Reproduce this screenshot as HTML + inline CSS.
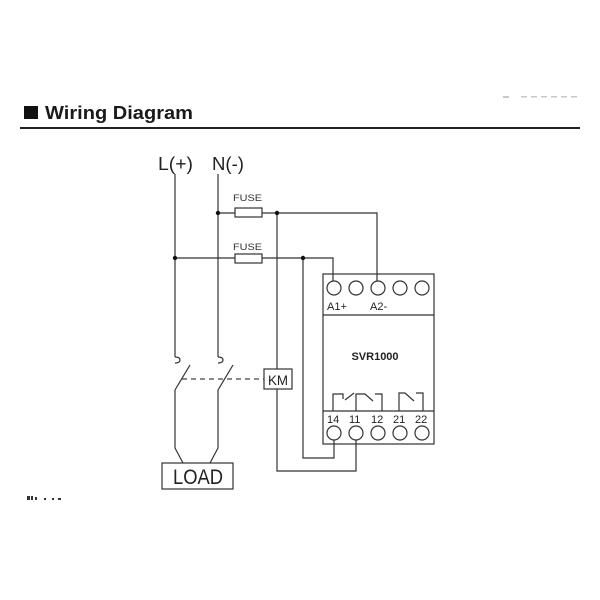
<!DOCTYPE html>
<html>
<head>
<meta charset="utf-8">
<style>
html,body{margin:0;padding:0;background:#fff;}
svg{display:block;}
</style>
</head>
<body>
<svg width="600" height="600" viewBox="0 0 600 600" xmlns="http://www.w3.org/2000/svg">
  <rect x="0" y="0" width="600" height="600" fill="#fff"/>
  <!-- faint top-right remnants -->
  <g fill="#c8c8c8">
    <rect x="503" y="96" width="6" height="2"/>
    <rect x="521" y="96" width="6" height="1.5"/>
    <rect x="531" y="96" width="6" height="1.5"/>
    <rect x="541" y="96" width="6" height="1.5"/>
    <rect x="551" y="96" width="6" height="1.5"/>
    <rect x="561" y="96" width="6" height="1.5"/>
    <rect x="571" y="96" width="6" height="1.5"/>
  </g>
  <!-- header -->
  <rect x="24" y="106" width="14" height="13" fill="#111"/>
  <text x="45" y="119" font-family="Liberation Sans, sans-serif" font-weight="bold" font-size="18" fill="#1a1a1a" textLength="148" lengthAdjust="spacingAndGlyphs">Wiring Diagram</text>
  <rect x="20" y="127" width="560" height="2" fill="#222"/>

  <!-- L / N labels -->
  <text x="158" y="170" font-family="Liberation Sans, sans-serif" font-size="18" fill="#222" textLength="35" lengthAdjust="spacingAndGlyphs">L(+)</text>
  <text x="212" y="170" font-family="Liberation Sans, sans-serif" font-size="18" fill="#222" textLength="32" lengthAdjust="spacingAndGlyphs">N(-)</text>

  <g stroke="#333" stroke-width="1.2" fill="none">
    <!-- L and N vertical lines -->
    <line x1="175" y1="174" x2="175" y2="357"/>
    <path d="M175 357 Q180 357 180 360 Q180 363 175 363"/>
    <line x1="218" y1="174" x2="218" y2="357"/>
    <path d="M218 357 Q223 357 223 360 Q223 363 218 363"/>
    <!-- switch blades -->
    <line x1="175" y1="390" x2="190" y2="365"/>
    <line x1="218" y1="390" x2="233" y2="365"/>
    <!-- down to load -->
    <path d="M175 390 V448 L183 463"/>
    <path d="M218 390 V448 L210 463"/>
    <!-- upper line (N) -->
    <path d="M218 213 H377 V281"/>
    <!-- lower line (L) -->
    <path d="M175 258 H333 V281"/>
    <!-- KM coil wire -->
    <path d="M277 213 V471 H356 V440"/>
    <!-- 14 wire -->
    <path d="M303 258 V458 H334 V440"/>
    <!-- device box -->
    <rect x="323" y="274" width="111" height="170"/>
    <line x1="323" y1="315" x2="434" y2="315"/>
    <line x1="323" y1="411" x2="434" y2="411"/>
    <!-- contacts -->
    <path d="M333 411 V394 H343 V399"/>
    <line x1="345" y1="400" x2="354" y2="393"/>
    <path d="M356 411 V394 H365 L373 401"/>
    <path d="M375 394 H382 V411"/>
    <path d="M399 411 V393 H405 L414 401"/>
    <path d="M416 393 H423 V411"/>
  </g>
  <!-- dashed mechanical link -->
  <line x1="182" y1="379" x2="264" y2="379" stroke="#444" stroke-width="1.2" stroke-dasharray="5,4"/>

  <!-- fuses -->
  <g stroke="#333" stroke-width="1.2" fill="#fff">
    <rect x="235" y="208" width="27" height="9"/>
    <rect x="235" y="254" width="27" height="9"/>
  </g>
  <text x="233" y="201" font-family="Liberation Sans, sans-serif" font-size="9.5" fill="#333" textLength="29" lengthAdjust="spacingAndGlyphs">FUSE</text>
  <text x="233" y="250" font-family="Liberation Sans, sans-serif" font-size="9.5" fill="#333" textLength="29" lengthAdjust="spacingAndGlyphs">FUSE</text>

  <!-- junction dots -->
  <g fill="#111">
    <circle cx="218" cy="213" r="2.2"/>
    <circle cx="277" cy="213" r="2.2"/>
    <circle cx="175" cy="258" r="2.2"/>
    <circle cx="303" cy="258" r="2.2"/>
  </g>

  <!-- terminals -->
  <g stroke="#333" stroke-width="1.2" fill="#fff">
    <circle cx="334" cy="288" r="7"/>
    <circle cx="356" cy="288" r="7"/>
    <circle cx="378" cy="288" r="7"/>
    <circle cx="400" cy="288" r="7"/>
    <circle cx="422" cy="288" r="7"/>
    <circle cx="334" cy="433" r="7"/>
    <circle cx="356" cy="433" r="7"/>
    <circle cx="378" cy="433" r="7"/>
    <circle cx="400" cy="433" r="7"/>
    <circle cx="422" cy="433" r="7"/>
  </g>
  <g font-family="Liberation Sans, sans-serif" font-size="11" fill="#222">
    <text x="327" y="310">A1+</text>
    <text x="370" y="310">A2-</text>
    <text x="327" y="423">14</text>
    <text x="349" y="423">11</text>
    <text x="371" y="423">12</text>
    <text x="393" y="423">21</text>
    <text x="415" y="423">22</text>
  </g>
  <text x="375" y="360" text-anchor="middle" font-family="Liberation Sans, sans-serif" font-weight="bold" font-size="11" fill="#222">SVR1000</text>

  <!-- KM box -->
  <rect x="264" y="369" width="28" height="20" fill="#fff" stroke="#333" stroke-width="1.2"/>
  <text x="268" y="385" font-family="Liberation Sans, sans-serif" font-size="14" fill="#222" textLength="20" lengthAdjust="spacingAndGlyphs">KM</text>

  <!-- LOAD box -->
  <rect x="162" y="463" width="71" height="26" fill="#fff" stroke="#333" stroke-width="1.2"/>
  <text x="173" y="484" font-family="Liberation Sans, sans-serif" font-size="21" fill="#222" textLength="50" lengthAdjust="spacingAndGlyphs">LOAD</text>

  <!-- cut-off "Note" remnants -->
  <g fill="#333">
    <rect x="27" y="496" width="3" height="4"/>
    <rect x="31" y="496" width="2" height="4"/>
    <rect x="35" y="497" width="2" height="3"/>
    <rect x="44" y="498" width="2" height="2"/>
    <rect x="52" y="498" width="2" height="2"/>
    <rect x="58" y="498" width="3" height="2"/>
  </g>
</svg>
</body>
</html>
